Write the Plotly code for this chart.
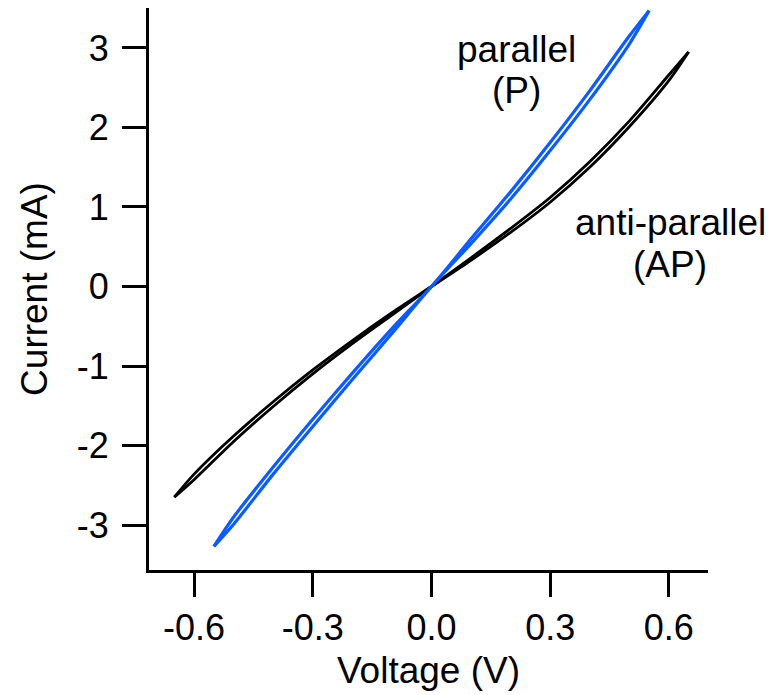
import plotly.graph_objects as go

# ---- data ----
# Anti-parallel (AP) state: forward and reverse sweeps
v_ap = [-0.65, -0.60, -0.50, -0.40, -0.30, -0.20, -0.10, 0.00, 0.10, 0.20, 0.30, 0.40, 0.50, 0.60, 0.65]
i_ap_fwd = [-2.65, -2.36, -1.88, -1.45, -1.05, -0.68, -0.33, 0.00, 0.33, 0.68, 1.06, 1.50, 2.01, 2.59, 2.95]
i_ap_rev = [-2.65, -2.43, -1.95, -1.51, -1.10, -0.72, -0.36, 0.00, 0.36, 0.73, 1.12, 1.57, 2.08, 2.66, 2.95]

# Parallel (P) state: forward and reverse sweeps
v_p = [-0.55, -0.50, -0.40, -0.30, -0.20, -0.10, 0.00, 0.10, 0.20, 0.30, 0.40, 0.50, 0.55]
i_p_fwd = [-3.27, -2.90, -2.27, -1.67, -1.09, -0.53, 0.00, 0.60, 1.19, 1.81, 2.46, 3.15, 3.47]
i_p_rev = [-3.27, -2.99, -2.36, -1.76, -1.17, -0.59, 0.00, 0.54, 1.10, 1.71, 2.35, 3.05, 3.47]

x_ticks = [-0.6, -0.3, 0.0, 0.3, 0.6]
x_tick_text = ["-0.6", "-0.3", "0.0", "0.3", "0.6"]
y_ticks = [-3, -2, -1, 0, 1, 2, 3]
y_tick_text = ["-3", "-2", "-1", "0", "1", "2", "3"]

labels = [
    ("parallel", 0.216, 2.98),
    ("(P)", 0.216, 2.46),
    ("anti-parallel", 0.603, 0.80),
    ("(AP)", 0.603, 0.28),
]

BLUE = "#0a5cff"
FONT = "Liberation Sans, Arial, Helvetica, sans-serif"

fig = go.Figure()
for ys in (i_ap_fwd, i_ap_rev):
    fig.add_trace(go.Scatter(x=v_ap, y=ys, mode="lines",
                             line=dict(color="black", width=2.8, shape="spline", smoothing=0.8),
                             showlegend=False, hoverinfo="skip"))
for ys in (i_p_fwd, i_p_rev):
    fig.add_trace(go.Scatter(x=v_p, y=ys, mode="lines",
                             line=dict(color=BLUE, width=3.2, shape="spline", smoothing=0.8),
                             showlegend=False, hoverinfo="skip"))

for txt, x, y in labels:
    fig.add_annotation(x=x, y=y, text=txt, showarrow=False,
                       xanchor="center", yanchor="middle",
                       font=dict(size=37, color="black", family=FONT))

axis_common = dict(
    showline=True, linewidth=3, linecolor="black", mirror=False,
    ticks="outside", ticklen=24, tickwidth=3, tickcolor="black",
    showgrid=False, zeroline=False,
    tickfont=dict(size=36, color="black", family=FONT),
)

fig.update_layout(
    width=774, height=695,
    margin=dict(l=141, r=74, t=0, b=133),
    paper_bgcolor="white", plot_bgcolor="white",
    font=dict(family=FONT, color="black"),
    xaxis=dict(range=[-0.714, 0.699], tickvals=x_ticks, ticktext=x_tick_text,
               title=dict(text="Voltage (V)", font=dict(size=37, family=FONT), standoff=10),
               **axis_common),
    yaxis=dict(range=[-3.566, 3.503], tickvals=y_ticks, ticktext=y_tick_text,
               ticklabelstandoff=6,
               title=dict(text="Current (mA)", font=dict(size=37, family=FONT), standoff=18),
               **axis_common),
)

fig.write_html("out.html")
